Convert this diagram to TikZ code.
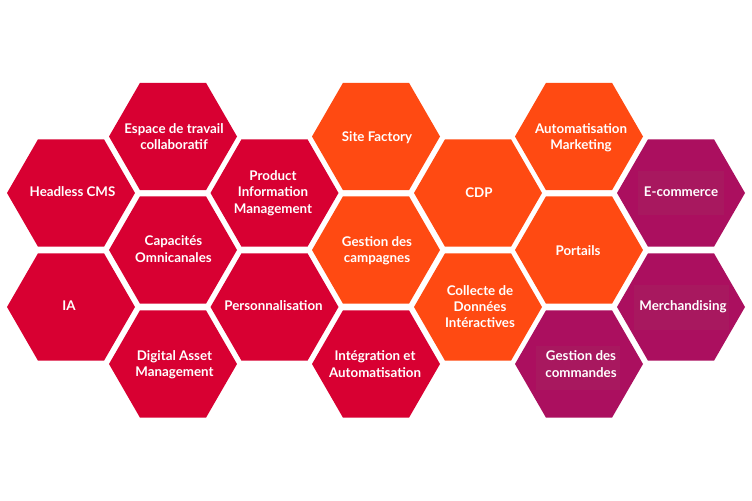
\documentclass[tikz,border=0pt]{standalone}
\usepackage{fontspec}
\setmainfont{Lato}
\usepackage{tikz}
\usetikzlibrary{positioning}

\definecolor{hexred}{HTML}{D80032}
\definecolor{hexorange}{HTML}{FF4A12}
\definecolor{hexpurple}{HTML}{AB0F5F}
\definecolor{hexpatch}{HTML}{A8185F}

\tikzset{hexlabel/.style={text=white, font=\fontsize{10pt}{12.3pt}\selectfont\bfseries, align=center, inner sep=0pt}}
\tikzset{hexpatchbox/.style={fill=hexpatch, draw=none}}

% one cell of the honeycomb: x, y, colour
\newcommand{\hexcell}[3]{
  \fill[#3] (#1-64,#2) -- (#1-33,#2-53.7) -- (#1+33,#2-53.7) -- (#1+64,#2)
    -- (#1+33,#2+53.7) -- (#1-33,#2+53.7) -- cycle;
}

\begin{document}
\begin{tikzpicture}[x=0.75pt, y=-0.75pt]
\path[use as bounding box, fill=white] (0,0) rectangle (752,500);

% left block
\hexcell{71}{193}{hexred}
\hexcell{71}{307}{hexred}
\hexcell{173}{136.5}{hexred}
\hexcell{173}{250}{hexred}
\hexcell{173}{364}{hexred}
\hexcell{274.5}{193}{hexred}
\hexcell{274.5}{307}{hexred}
\hexcell{376}{364}{hexred}
% middle block
\hexcell{376}{136.5}{hexorange}
\hexcell{376}{250}{hexorange}
\hexcell{478}{193}{hexorange}
\hexcell{478}{307}{hexorange}
\hexcell{579}{136.5}{hexorange}
\hexcell{579}{250}{hexorange}
% right block
\hexcell{579}{364}{hexpurple}
\hexcell{681}{193}{hexpurple}
\hexcell{681}{307}{hexpurple}
\fill[hexpatchbox] (536,346) rectangle (620,390);
\fill[hexpatchbox] (638,171) rectangle (724,215);
\fill[hexpatchbox] (634,285) rectangle (729,330);

\node[hexlabel] (headless) at (72.5,191.5) {Headless CMS};
\node[hexlabel] (ia) at (69,306) {IA};
\node[hexlabel] (espace) at (174,136.5) {Espace de travail\\collaboratif};
\node[hexlabel] (omni) at (173.5,249) {Capacités\\Omnicanales};
\node[hexlabel] (dam) at (174.5,365) {Digital Asset\\Management};
\node[hexlabel] (pim) at (273,193) {Product\\Information\\Management};
\node[hexlabel] (perso) at (273.5,306) {Personnalisation};
\node[hexlabel] (integration) at (375,364) {Intégration et\\Automatisation};
\node[hexlabel] (factory) at (377,137.5) {Site Factory};
\node[hexlabel] (campagnes) at (377,251) {Gestion des\\campagnes};
\node[hexlabel] (cdp) at (479,193) {CDP};
\node[hexlabel] (collecte) at (480,306.5) {Collecte de\\Données\\Intéractives};
\node[hexlabel] (automation) at (581,137.5) {Automatisation\\Marketing};
\node[hexlabel] (portails) at (578,251) {Portails};
\node[hexlabel] (commandes) at (581,364) {Gestion des\\commandes};
\node[hexlabel] (ecommerce) at (681,192) {E-commerce};
\node[hexlabel] (merch) at (683,307) {Merchandising};
\end{tikzpicture}
\end{document}
